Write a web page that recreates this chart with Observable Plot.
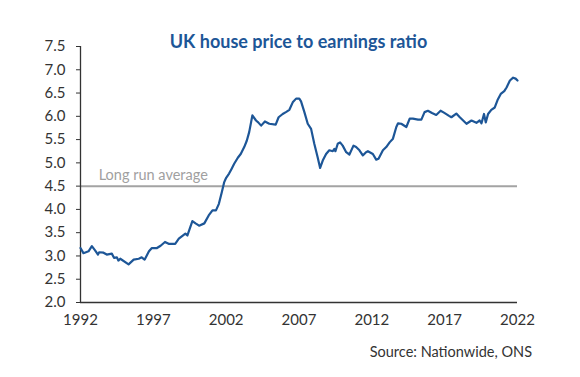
<!DOCTYPE html>
<html>
<head>
<meta charset="utf-8">
<script src="https://cdn.jsdelivr.net/npm/d3@7"></script>
<script src="https://cdn.jsdelivr.net/npm/@observablehq/plot@0.6"></script>
<style>
  html, body { margin: 0; padding: 0; background: #fff; }
  #wrap { position: relative; width: 580px; height: 377px; font-family: Lato, "Open Sans", sans-serif; }
  #title { position: absolute; left: 0; top: 30px; width: 597px; text-align: center; font-weight: bold; font-size: 18px; color: #1d5697; }
  #source { position: absolute; right: 48px; top: 343px; font-size: 14.5px; color: #333; }
  #chart { position: absolute; left: 0; top: 0; }
</style>
</head>
<body>
<div id="wrap">
  <div id="chart"></div>
  <div id="title">UK house price to earnings ratio</div>
  <div id="source">Source: Nationwide, ONS</div>
</div>
<script>
const years = [
  1992.0, 1992.2, 1992.55, 1992.78, 1993.0, 1993.2, 1993.28, 1993.58, 1993.8, 1994.15,
  1994.3, 1994.5, 1994.6, 1994.73, 1995.3, 1995.65, 1996.0, 1996.2, 1996.4, 1996.7,
  1996.9, 1997.25, 1997.5, 1997.8, 1998.05, 1998.5, 1998.75, 1999.2, 1999.34, 1999.68,
  1999.9, 2000.14, 2000.5, 2000.8, 2001.06, 2001.3, 2001.5, 2001.7, 2001.86, 2002.0,
  2002.2, 2002.37, 2002.55, 2002.8, 2003.0, 2003.24, 2003.42, 2003.58, 2003.8, 2004.05,
  2004.2, 2004.4, 2004.66, 2004.96, 2005.4, 2005.6, 2005.88, 2006.1, 2006.34, 2006.57,
  2006.8, 2007.02, 2007.14, 2007.37, 2007.6, 2007.83, 2008.05, 2008.28, 2008.45, 2008.63,
  2008.86, 2009.08, 2009.32, 2009.43, 2009.5, 2009.66, 2009.82, 2010.0, 2010.24, 2010.46,
  2010.74, 2010.92, 2011.15, 2011.38, 2011.6, 2011.73, 2012.07, 2012.3, 2012.46, 2012.76,
  2012.99, 2013.22, 2013.45, 2013.68, 2013.8, 2014.02, 2014.37, 2014.6, 2014.82, 2015.17,
  2015.4, 2015.62, 2015.85, 2016.13, 2016.42, 2016.72, 2016.95, 2017.3, 2017.46, 2017.8,
  2018.04, 2018.27, 2018.5, 2018.84, 2019.18, 2019.4, 2019.53, 2019.7, 2019.82, 2019.98,
  2020.2, 2020.44, 2020.63, 2020.85, 2021.09, 2021.25, 2021.48, 2021.7, 2021.87, 2022.0
];
const ratio = [
  3.17, 3.06, 3.10, 3.21, 3.12, 3.03, 3.08, 3.07, 3.03, 3.05,
  2.96, 2.97, 2.90, 2.94, 2.82, 2.92, 2.94, 2.97, 2.92, 3.10,
  3.17, 3.17, 3.22, 3.30, 3.26, 3.26, 3.37, 3.48, 3.44, 3.75,
  3.70, 3.65, 3.70, 3.87, 3.98, 3.98, 4.12, 4.37, 4.58, 4.68,
  4.77, 4.87, 4.98, 5.11, 5.19, 5.34, 5.48, 5.66, 6.02, 5.91,
  5.87, 5.80, 5.89, 5.84, 5.82, 5.98, 6.05, 6.09, 6.14, 6.30,
  6.38, 6.38, 6.32, 6.09, 5.84, 5.73, 5.41, 5.12, 4.89, 5.05,
  5.19, 5.27, 5.25, 5.30, 5.25, 5.41, 5.44, 5.37, 5.23, 5.18,
  5.37, 5.34, 5.27, 5.16, 5.23, 5.25, 5.19, 5.07, 5.09, 5.27,
  5.34, 5.44, 5.52, 5.77, 5.85, 5.84, 5.77, 5.95, 5.95, 5.93,
  5.93, 6.09, 6.12, 6.07, 6.03, 6.12, 6.08, 6.01, 5.98, 6.06,
  5.98, 5.91, 5.84, 5.91, 5.86, 5.91, 5.85, 6.05, 5.87, 6.05,
  6.14, 6.19, 6.35, 6.48, 6.54, 6.62, 6.77, 6.83, 6.81, 6.77
];
const longRunAverage = 4.5;
const avgLabel = "Long run average";
const xTicks = [1992, 1997, 2002, 2007, 2012, 2017, 2022];
const yTicks = [2.0, 2.5, 3.0, 3.5, 4.0, 4.5, 5.0, 5.5, 6.0, 6.5, 7.0, 7.5];

const data = years.map((y, i) => ({year: y, ratio: ratio[i]}));

const chart = Plot.plot({
  width: 580,
  height: 377,
  marginLeft: 80,
  marginRight: 63,
  marginTop: 46,
  marginBottom: 75,
  style: {fontFamily: "Lato, 'Open Sans', sans-serif", fontSize: "15px", color: "#333", background: "#fff"},
  x: {domain: [1992, 2022]},
  y: {domain: [2, 7.5]},
  marks: [
    Plot.ruleY([longRunAverage], {stroke: "#a3a3a3", strokeWidth: 2}),
    Plot.text([avgLabel], {x: 1993.25, y: longRunAverage, text: d => d, textAnchor: "start", lineAnchor: "bottom", dy: -6, fill: "#a0a0a0", fontSize: 14.5}),
    Plot.axisY({ticks: yTicks, tickFormat: d3.format(".1f"), tickSize: 4, tickPadding: 11, label: null, stroke: "#333"}),
    Plot.axisX({ticks: xTicks, tickFormat: d3.format("d"), tickSize: 0, tickPadding: 12, label: null}),
    Plot.ruleX([1992], {stroke: "#333", strokeWidth: 1.3}),
    Plot.ruleY([2], {stroke: "#333", strokeWidth: 1.3}),
    Plot.line(data, {x: "year", y: "ratio", stroke: "#1d5697", strokeWidth: 2.2, strokeLinejoin: "round"})
  ]
});
document.getElementById("chart").appendChild(chart);
</script>
</body>
</html>
